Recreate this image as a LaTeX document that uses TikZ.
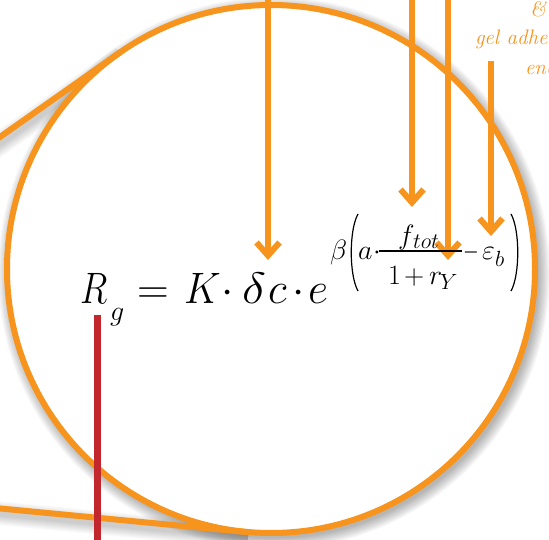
\RequirePackage{fix-cm}
\documentclass[tikz,border=0pt]{standalone}
\usetikzlibrary{arrows.meta}
\definecolor{corange}{HTML}{F7941E}
\definecolor{cred}{HTML}{C1272D}
\newcommand\szA{\fontsize{44}{48}\selectfont}
\newcommand\szB{\fontsize{28}{30}\selectfont}
\newcommand\szC{\fontsize{22}{24}\selectfont}
\newcommand\szT{\fontsize{21}{24}\selectfont}
\tikzset{
  eq/.style={inner sep=0pt, outer sep=0pt, anchor=base west},
  arr/.style={draw=corange, line width=6pt, -{Straight Barb[length=13pt,width=23pt]}},
  callout/.style={draw=corange, line width=6pt},
  paren/.style={draw=black, line width=1.2pt},
}
\begin{document}
\begin{tikzpicture}[x=1pt,y=-1pt]
\useasboundingbox (0,0) rectangle (549,540);
\clip (0,0) rectangle (549,540);
\fill[white] (0,0) rectangle (549,540);
% geometry
\coordinate (C) at (271,269);
\coordinate (T1) at (120.6,52);
\coordinate (L1) at (-10,144);
\coordinate (T2) at (246,532);
\coordinate (L2) at (-10,507.5);
% shadows
\foreach \i in {1,...,10}{
  \fill[black, opacity=0.03] (274,273) circle ({264+1.2*\i});
  \draw[black, opacity=0.02, line width={4+2*\i}] ([shift={(2,5)}]L1) -- ([shift={(2,5)}]T1);
  \draw[black, opacity=0.02, line width={4+2*\i}] ([shift={(2,5)}]L2) -- ([shift={(2,5)}]T2);
}
% callout
\fill[white] (C) circle (264);
\draw[callout] (L1) -- (T1);
\draw[callout] (L2) -- (T2);
\draw[callout] (C) circle (264);
% arrows
\coordinate (a1s) at (268,-5);  \coordinate (a1e) at (268,260);
\coordinate (a2s) at (412,-5);  \coordinate (a2e) at (412,207);
\coordinate (a3s) at (448,-5);  \coordinate (a3e) at (448,260);
\coordinate (a4s) at (491,61);  \coordinate (a4e) at (491,236);
\draw[arr] (a1s) -- (a1e);
\draw[arr] (a2s) -- (a2e);
\draw[arr] (a3s) -- (a3e);
\draw[arr] (a4s) -- (a4e);
% red line
\coordinate (rs) at (97,315); \coordinate (re) at (97,545);
\draw[cred, line width=7pt] (rs) -- (re);
% equation
\node[eq,font=\szA] (R) at (80,303) {\scalebox{0.82}[1]{$R$}};
\node[eq,font=\szB] (g) at (110,320) {$g$};
\node[eq,font=\szA] (eqs) at (137,303) {$=$};
\node[eq,font=\szA] (K) at (184,303) {\scalebox{0.92}[1]{$K$}};
\node[eq,font=\szA] (d1) at (221,303) {$\cdot$};
\node[eq,font=\szA] (delta) at (242,303) {\scalebox{1.15}[1]{$\delta$}};
\node[eq,font=\szA] (c) at (268,303) {$c$};
\node[eq,font=\szA] (d2) at (292,303) {$\cdot$};
\node[eq,font=\szA] (e) at (308,303) {$e$};
\node[eq,font=\szB] (beta) at (330,259) {$\beta$};
\draw[paren] (358,214) .. controls (349,230) and (349,275) .. (358,291);
\node[eq,font=\szB] (a) at (358,259) {$a$};
\node[eq,font=\szB] (d3) at (373,259) {$\cdot$};
\draw[line width=1.4pt] (379,251) -- (462,251);
\node[eq,font=\szB] (f) at (398,245) {$f$};
\node[eq,font=\szC] (tot) at (413,249) {$tot$};
\node[eq,font=\szB] (one) at (388,284) {$1$};
\node[eq,font=\szB] (plus) at (404,284) {$+$};
\node[eq,font=\szB] (r) at (429,284) {$r$};
\node[eq,font=\szC] (Y) at (440,290) {$Y$};
\node[eq,font=\szB] (minus) at (463,259) {\scalebox{0.72}[1]{$-$}};
\node[eq,font=\szB] (eps) at (482,259) {$\varepsilon$};
\node[eq,font=\szC] (b) at (495,266) {$b$};
\draw[paren] (511,214) .. controls (520,230) and (520,275) .. (511,291);
% top-right labels
\node[eq,font=\szT\itshape,text=corange] (amp) at (530,17) {\&};
\node[eq,font=\szT\itshape,text=corange] (gel) at (475,45) {gel adhe};
\node[eq,font=\szT\itshape,text=corange] (ene) at (525,75) {ene};
\end{tikzpicture}
\end{document}
